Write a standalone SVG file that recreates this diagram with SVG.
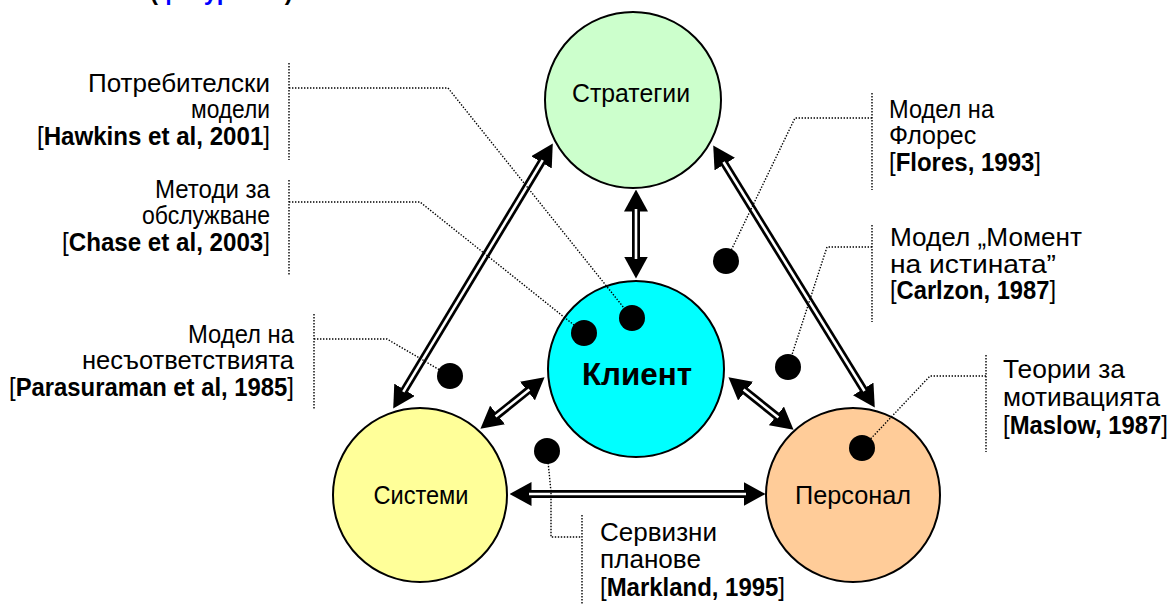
<svg xmlns="http://www.w3.org/2000/svg" width="1172" height="605" viewBox="0 0 1172 605">
<style>
text{font-family:"Liberation Sans",Arial,sans-serif;fill:#000}
.lbl{font-size:25px}
.b{font-weight:bold}
.node{stroke:#000;stroke-width:2}
.nt{font-size:25px;text-anchor:middle}
.outer{stroke:#000;stroke-width:8;fill:none;marker-start:url(#ah);marker-end:url(#ah)}
.inner{stroke:#fff;stroke-width:2.6;fill:none}
.lead{stroke:#000;stroke-width:1.4;stroke-dasharray:1.4 1.6;fill:none}
.dot{fill:#000}
.r{text-anchor:end}
</style>
<defs>
<marker id="ah" viewBox="0 0 22 24" refX="0.5" refY="12" markerWidth="22" markerHeight="24" markerUnits="userSpaceOnUse" orient="auto-start-reverse">
<path d="M0,0 L22,12 L0,24 z" fill="#000"/>
</marker>
</defs>
<rect width="1172" height="605" fill="#fff"/>
<text x="150" y="0" style="font-size:24px;font-weight:bold">(<tspan fill="#0000FF">фигура 2.1</tspan>)</text>

<g id="node-strategii"><circle class="node" cx="633" cy="100" r="88" fill="#CCFFCC"/><text class="nt" x="631" y="102" textLength="118" lengthAdjust="spacingAndGlyphs">Стратегии</text></g>
<g id="node-klient"><circle class="node" cx="636" cy="369" r="88" fill="#00FFFF"/><text x="637" y="385" textLength="110" lengthAdjust="spacingAndGlyphs" style="font-size:31px;font-weight:bold;text-anchor:middle">Клиент</text></g>
<g id="node-sistemi"><circle class="node" cx="420" cy="495" r="87" fill="#FFFF99"/><text class="nt" x="421" y="504" textLength="95" lengthAdjust="spacingAndGlyphs">Системи</text></g>
<g id="node-personal"><circle class="node" cx="853" cy="495" r="87" fill="#FFCC99"/><text class="nt" x="853" y="504" textLength="116" lengthAdjust="spacingAndGlyphs">Персонал</text></g>

<g id="connectors">
<path class="outer" d="M636,211 L636,257"/><path class="inner" d="M636,209 L636,259"/>
<path class="outer" d="M541.7,161.9 L404.3,390.2"/><path class="inner" d="M542.7,160.2 L403.3,391.9"/>
<path class="outer" d="M724.5,163.7 L863.5,389.3"/><path class="inner" d="M723.5,162 L864.5,391"/>
<path class="outer" d="M527.8,390.7 L497.2,415.3"/><path class="inner" d="M529.4,389.4 L495.6,416.6"/>
<path class="outer" d="M745.2,390.8 L776.8,416.2"/><path class="inner" d="M743.6,389.5 L778.4,417.5"/>
<path class="outer" d="M531,494 L744,494"/><path class="inner" d="M529,494 L746,494"/>
</g>

<g id="annot-hawkins">
<path class="lead" d="M289,63 L289,160 M289,88 L448,88 L632,318"/>
<circle class="dot" cx="632" cy="318" r="13"/>
<text class="lbl r" x="270" y="92" textLength="182" lengthAdjust="spacingAndGlyphs">Потребителски</text>
<text class="lbl r" x="270" y="118" textLength="79" lengthAdjust="spacingAndGlyphs">модели</text>
<text class="lbl r" x="270" y="145" textLength="233" lengthAdjust="spacingAndGlyphs">[<tspan class="b">Hawkins et al, 2001</tspan>]</text>
</g>
<g id="annot-chase">
<path class="lead" d="M289,180 L289,275 M289,202 L420,202 L584,333"/>
<circle class="dot" cx="584" cy="333" r="13"/>
<text class="lbl r" x="270" y="198" textLength="115" lengthAdjust="spacingAndGlyphs">Методи за</text>
<text class="lbl r" x="270" y="224" textLength="128" lengthAdjust="spacingAndGlyphs">обслужване</text>
<text class="lbl r" x="270" y="251" textLength="208" lengthAdjust="spacingAndGlyphs">[<tspan class="b">Chase et al, 2003</tspan>]</text>
</g>
<g id="annot-parasuraman">
<path class="lead" d="M314,314 L314,410 M314,339 L387,339 L450,376"/>
<circle class="dot" cx="450" cy="376" r="13"/>
<text class="lbl r" x="294" y="343" textLength="106" lengthAdjust="spacingAndGlyphs">Модел на</text>
<text class="lbl r" x="294" y="369" textLength="212" lengthAdjust="spacingAndGlyphs">несъответствията</text>
<text class="lbl r" x="294" y="396" textLength="285" lengthAdjust="spacingAndGlyphs">[<tspan class="b">Parasuraman et al, 1985</tspan>]</text>
</g>
<g id="annot-markland">
<path class="lead" d="M547,451 L551,492 L551,537 L582,537 M582,515 L582,605"/>
<circle class="dot" cx="547" cy="451" r="13"/>
<text class="lbl" x="600" y="541" textLength="117" lengthAdjust="spacingAndGlyphs">Сервизни</text>
<text class="lbl" x="600" y="568" textLength="101" lengthAdjust="spacingAndGlyphs">планове</text>
<text class="lbl" x="600" y="596" textLength="185" lengthAdjust="spacingAndGlyphs">[<tspan class="b">Markland, 1995</tspan>]</text>
</g>
<g id="annot-flores">
<path class="lead" d="M872,93 L872,190 M872,118 L795,118 L726,261"/>
<circle class="dot" cx="726" cy="261" r="13"/>
<text class="lbl" x="889" y="118" textLength="105" lengthAdjust="spacingAndGlyphs">Модел на</text>
<text class="lbl" x="889" y="144">Флорес</text>
<text class="lbl" x="889" y="171" textLength="152" lengthAdjust="spacingAndGlyphs">[<tspan class="b">Flores, 1993</tspan>]</text>
</g>
<g id="annot-carlzon">
<path class="lead" d="M872,225 L872,322 M872,247 L827,247 L788,367"/>
<circle class="dot" cx="788" cy="367" r="13"/>
<text class="lbl" x="890" y="246" textLength="192" lengthAdjust="spacingAndGlyphs">Модел „Момент</text>
<text class="lbl" x="890" y="273" textLength="166" lengthAdjust="spacingAndGlyphs">на истината”</text>
<text class="lbl" x="890" y="299" textLength="166" lengthAdjust="spacingAndGlyphs">[<tspan class="b">Carlzon, 1987</tspan>]</text>
</g>
<g id="annot-maslow">
<path class="lead" d="M986,355 L986,452 M986,376 L930,376 L862,448"/>
<circle class="dot" cx="862" cy="448" r="13"/>
<text class="lbl" x="1003" y="378" textLength="122" lengthAdjust="spacingAndGlyphs">Теории за</text>
<text class="lbl" x="1003" y="406" textLength="157" lengthAdjust="spacingAndGlyphs">мотивацията</text>
<text class="lbl" x="1003" y="434" textLength="165" lengthAdjust="spacingAndGlyphs">[<tspan class="b">Maslow, 1987</tspan>]</text>
</g>
</svg>
